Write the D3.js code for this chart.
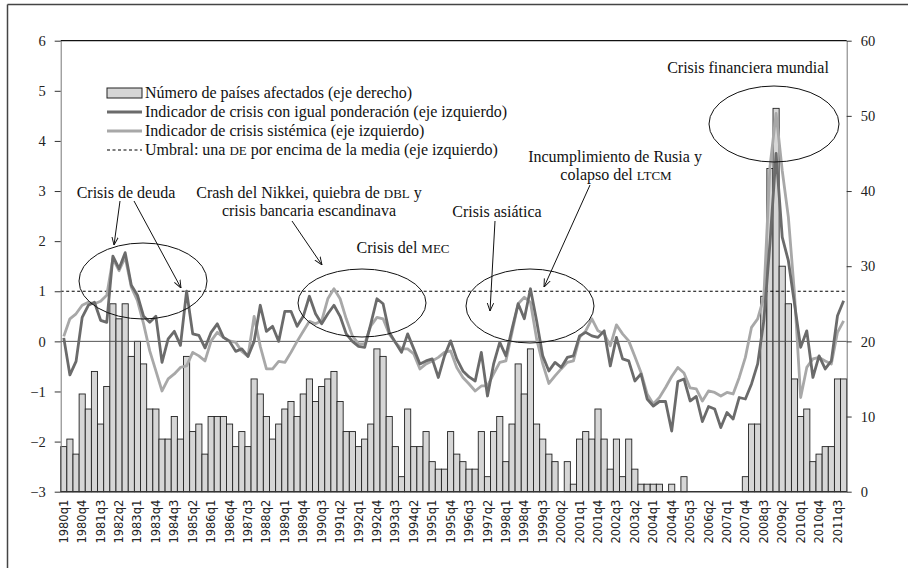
<!DOCTYPE html>
<html><head><meta charset="utf-8">
<script src="https://cdn.jsdelivr.net/npm/d3@7"></script>
<style>
body{margin:0;background:#fff}
.serif text, text.serif, .serif tspan{font-family:"Liberation Serif","Times New Roman",serif}
</style>
</head><body>
<svg id="c" width="908" height="568"></svg>
<script>
// ---------- DATA ----------
const years = d3.range(1980, 2012);
const quarters = years.flatMap(y => [1,2,3,4].map(q => y + "q" + q));
const tickLabels = quarters.filter((d, i) => i % 3 === 0);

// Número de países afectados (eje derecho)
const paises = [
  6,7,5,13,11,16,9,14,25,23,
  25,18,20,17,11,11,7,7,10,7,
  18,8,9,5,10,10,10,9,6,8,
  6,15,13,10,7,9,11,12,10,13,
  15,12,14,15,16,12,8,8,6,7,
  9,19,18,10,6,2,11,6,6,8,
  4,3,3,8,5,4,3,3,8,2,
  8,10,4,9,17,13,19,9,7,5,
  4,0,4,1,7,8,7,11,7,3,
  7,2,7,3,1,1,1,1,0,1,
  0,2,0,0,0,0,0,0,0,0,
  0,2,9,9,26,43,51,30,25,15,
  10,11,4,5,6,6,15,15
];
// Indicador de crisis con igual ponderación (eje izquierdo)
const indIgual = [
  0.07,-0.67,-0.4,0.48,0.72,0.78,0.42,0.38,1.7,1.45,
  1.77,1.12,0.92,0.5,0.38,0.5,-0.42,0.05,0.2,-0.08,
  1.0,0.15,0.12,-0.13,0.18,0.35,0.08,0.0,-0.2,-0.15,
  -0.3,0.0,0.72,0.2,0.3,0.0,0.6,0.6,0.3,0.5,
  0.9,0.55,0.35,0.55,0.72,0.5,0.15,0.0,-0.1,-0.12,
  0.35,0.85,0.75,0.18,-0.02,-0.22,0.15,-0.15,-0.45,-0.39,
  -0.35,-0.72,-0.29,0.01,-0.35,-0.59,-0.71,-0.79,-0.22,-1.09,
  -0.45,-0.02,-0.29,0.25,0.75,0.45,1.05,0.41,-0.29,-0.59,
  -0.42,-0.52,-0.32,-0.29,0.11,0.18,0.11,0.08,0.21,-0.49,
  0.08,-0.35,-0.39,-0.79,-0.65,-1.15,-1.29,-1.2,-1.2,-1.79,
  -0.8,-0.75,-1.19,-1.1,-1.6,-1.3,-1.35,-1.72,-1.42,-1.55,
  -1.12,-1.15,-0.85,-0.45,0.41,1.95,3.75,2.08,1.61,0.75,
  -0.12,0.21,-0.72,-0.29,-0.55,-0.39,0.51,0.81
];
// Indicador de crisis sistémica (eje izquierdo)
const indSist = [
  0.1,0.45,0.55,0.72,0.78,0.75,0.8,0.92,1.65,1.41,
  1.68,1.08,0.81,0.35,-0.19,-0.59,-0.99,-0.75,-0.65,-0.52,
  -0.49,-0.22,-0.29,-0.39,0.01,0.18,0.08,0.01,-0.02,-0.2,
  -0.3,0.5,-0.1,-0.55,-0.55,-0.4,-0.42,-0.22,0.0,0.2,
  0.4,0.35,0.41,0.85,1.05,0.85,0.45,0.11,-0.05,-0.05,
  0.31,0.48,0.45,0.15,-0.02,-0.15,-0.15,-0.25,-0.55,-0.45,
  -0.39,-0.32,-0.22,-0.19,-0.52,-0.72,-0.85,-0.99,-0.89,-0.89,
  -0.65,-0.42,-0.39,0.18,0.75,0.88,0.78,0.05,-0.45,-0.84,
  -0.69,-0.55,-0.42,-0.39,0.08,0.21,0.45,0.21,0.15,-0.09,
  0.33,0.15,0.01,-0.3,-0.62,-1.05,-1.25,-1.12,-0.92,-0.7,
  -0.52,-0.63,-0.93,-0.95,-1.19,-0.99,-1.02,-1.09,-1.02,-1.05,
  -0.72,-0.32,0.28,0.45,0.88,3.48,4.55,3.41,2.48,0.95,
  -1.12,-0.52,-0.35,-0.32,-0.39,-0.45,0.18,0.41
];
const umbral = 1;
const leftTicks = [-3,-2,-1,0,1,2,3,4,5,6];
const rightTicks = [0,10,20,30,40,50,60];
const legendLabels = [
  "Número de países afectados (eje derecho)",
  "Indicador de crisis con igual ponderación (eje izquierdo)",
  "Indicador de crisis sistémica (eje izquierdo)",
  ["Umbral: una ", "DE", " por encima de la media (eje izquierdo)"]
];

// ---------- LAYOUT ----------
const svg = d3.select("#c");
const L = 60.7, R = 846.7, T = 40.7, B = 491.7;
const sans = "'DejaVu Sans', Verdana, sans-serif";
const cDark = "#6b6b6b", cLight = "#a8a8a8";

const x = d3.scaleBand().domain(quarters).range([L, R]).padding(0);
const yL = d3.scaleLinear().domain([-3, 6]).range([B, T]);
const yR = d3.scaleLinear().domain([0, 60]).range([B, T]);
const cx = d => x(d) + x.bandwidth() / 2;

// outer frame (top and left)
svg.append("line").attr("x1", 7.5).attr("x2", 908).attr("y1", 4.5).attr("y2", 4.5)
  .attr("stroke", "#444").attr("stroke-width", 1.5);
svg.append("line").attr("x1", 7.5).attr("x2", 7.5).attr("y1", 4.5).attr("y2", 568)
  .attr("stroke", "#444").attr("stroke-width", 1.5);

// bars
svg.append("g").selectAll("rect").data(quarters).join("rect")
  .attr("x", d => x(d))
  .attr("width", x.bandwidth())
  .attr("y", (d, i) => yR(paises[i]))
  .attr("height", (d, i) => yR(0) - yR(paises[i]))
  .attr("fill", "#d6d6d6").attr("stroke", "#222").attr("stroke-width", 0.9);

// zero line and threshold
svg.append("line").attr("x1", L).attr("x2", R).attr("y1", yL(0)).attr("y2", yL(0))
  .attr("stroke", "#555").attr("stroke-width", 1);
svg.append("line").attr("x1", L).attr("x2", R).attr("y1", yL(umbral)).attr("y2", yL(umbral))
  .attr("stroke", "#000").attr("stroke-width", 1.2).attr("stroke-dasharray", "3,2.5");

// lines
const lineL = arr => d3.line().x((d, i) => cx(quarters[i])).y(d => yL(d))(arr);
svg.append("path").attr("d", lineL(indSist)).attr("fill", "none")
  .attr("stroke", cLight).attr("stroke-width", 2.8).attr("stroke-linejoin", "round");
svg.append("path").attr("d", lineL(indIgual)).attr("fill", "none")
  .attr("stroke", cDark).attr("stroke-width", 2.8).attr("stroke-linejoin", "round");

// axes
const axL = svg.append("g").attr("class", "serif").attr("transform", `translate(${L},0)`)
  .call(d3.axisLeft(yL).tickValues(leftTicks).tickSize(6).tickSizeOuter(0).tickFormat(d3.format("d")));
const axR = svg.append("g").attr("class", "serif").attr("transform", `translate(${R},0)`)
  .call(d3.axisRight(yR).tickValues(rightTicks).tickSize(5).tickSizeOuter(0).tickFormat(d3.format("d")));
[axL, axR].forEach(a => {
  a.attr("font-family", null);
  a.select(".domain").attr("stroke", "#777");
  a.selectAll(".tick line").attr("stroke", "#333");
  a.selectAll("text").attr("font-size", 14.5).attr("fill", "#222");
});
axL.selectAll("text").attr("x", -15);
axR.selectAll("text").attr("x", 14);
// top border & bottom baseline
svg.append("line").attr("x1", L).attr("x2", R).attr("y1", T).attr("y2", T).attr("stroke", "#111").attr("stroke-width", 1.2);
svg.append("line").attr("x1", L).attr("x2", R).attr("y1", B).attr("y2", B).attr("stroke", "#333").attr("stroke-width", 1.5);

// x axis labels
const axB = svg.append("g").attr("transform", `translate(0,${B})`)
  .call(d3.axisBottom(x).tickValues(tickLabels).tickSize(0));
axB.select(".domain").remove();
axB.attr("font-family", null);
axB.selectAll("text")
  .style("font-family", sans).attr("font-size", 11.5).attr("fill", "#222")
  .attr("transform", "rotate(-90)").attr("text-anchor", "end")
  .attr("x", -8).attr("y", 0).attr("dy", "0.35em");

// legend
const lg = svg.append("g").attr("class", "serif");
const lx0 = 107, lx1 = 142, ly0 = 93, ldy = 19;
lg.append("rect").attr("x", lx0).attr("y", ly0 - 5).attr("width", lx1 - lx0).attr("height", 10)
  .attr("fill", "#d6d6d6").attr("stroke", "#222").attr("stroke-width", 1);
lg.append("line").attr("x1", lx0).attr("x2", lx1).attr("y1", ly0 + ldy).attr("y2", ly0 + ldy)
  .attr("stroke", cDark).attr("stroke-width", 2.8);
lg.append("line").attr("x1", lx0).attr("x2", lx1).attr("y1", ly0 + 2 * ldy).attr("y2", ly0 + 2 * ldy)
  .attr("stroke", cLight).attr("stroke-width", 2.8);
lg.append("line").attr("x1", lx0).attr("x2", lx1).attr("y1", ly0 + 3 * ldy).attr("y2", ly0 + 3 * ldy)
  .attr("stroke", "#000").attr("stroke-width", 1.2).attr("stroke-dasharray", "3,2.5");
legendLabels.forEach((t, i) => {
  const tx = lg.append("text").attr("x", lx1 + 3).attr("y", ly0 + i * ldy).attr("dy", "0.33em")
    .attr("font-size", 16).attr("fill", "#111");
  if (Array.isArray(t)) {
    tx.append("tspan").text(t[0]);
    tx.append("tspan").attr("font-size", 13).text(t[1]);
    tx.append("tspan").text(t[2]);
  } else tx.text(t);
});

// annotations
const ann = svg.append("g").attr("class", "serif").attr("font-size", 16).attr("fill", "#111")
  .attr("text-anchor", "middle");
function label(xp, yp, parts) {
  const t = ann.append("text").attr("x", xp).attr("y", yp).attr("dy", "0.33em");
  parts.forEach(p => {
    if (typeof p === "string") t.append("tspan").text(p);
    else t.append("tspan").attr("font-size", 13).text(p.sc);
  });
}
label(126, 193, ["Crisis de deuda"]);
label(309, 193, ["Crash del Nikkei, quiebra de ", {sc: "DBL"}, " y"]);
label(309, 211, ["crisis bancaria escandinava"]);
label(403, 248, ["Crisis del ", {sc: "MEC"}]);
label(497, 212, ["Crisis asiática"]);
label(615, 157, ["Incumplimiento de Rusia y"]);
label(616, 175, ["colapso del ", {sc: "LTCM"}]);
label(748, 68, ["Crisis financiera mundial"]);

// ellipses
const ell = [[143, 281, 64, 38], [362, 303, 64, 34], [530, 306, 64, 37], [774, 124, 65, 38]];
svg.append("g").selectAll("ellipse").data(ell).join("ellipse")
  .attr("cx", d => d[0]).attr("cy", d => d[1]).attr("rx", d => d[2]).attr("ry", d => d[3])
  .attr("fill", "none").attr("stroke", "#111").attr("stroke-width", 1);

// arrows
const defs = svg.append("defs");
defs.append("marker").attr("id", "ah").attr("viewBox", "0 0 10 10").attr("refX", 10).attr("refY", 5)
  .attr("markerWidth", 8).attr("markerHeight", 8).attr("orient", "auto-start-reverse")
  .append("path").attr("d", "M0,1 L10,5 L0,9").attr("fill", "none").attr("stroke", "#111").attr("stroke-width", 1.2);
const arrows = [[120, 201, 114, 245], [134, 201, 181, 288], [292, 221, 322, 265], [495, 221, 490, 311], [590, 185, 544, 287]];
svg.append("g").selectAll("line").data(arrows).join("line")
  .attr("x1", d => d[0]).attr("y1", d => d[1]).attr("x2", d => d[2]).attr("y2", d => d[3])
  .attr("stroke", "#111").attr("stroke-width", 1).attr("marker-end", "url(#ah)");
</script>
</body></html>
